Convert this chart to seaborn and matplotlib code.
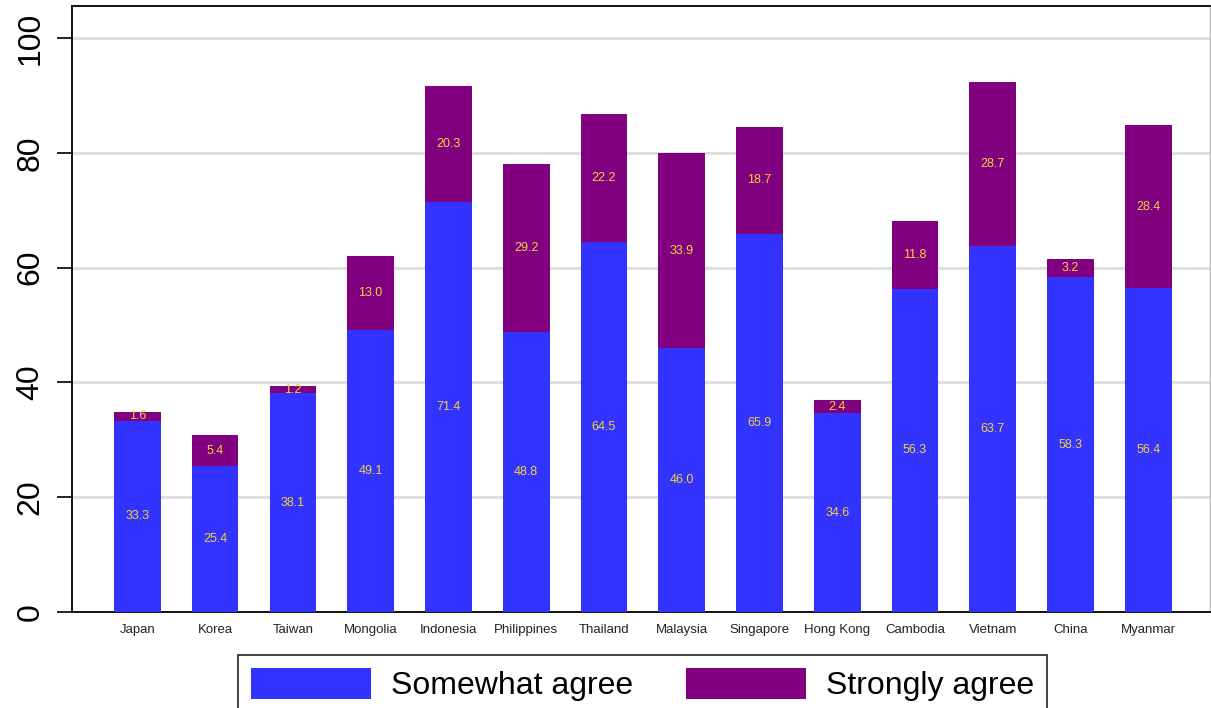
import pandas as pd
import seaborn as sns
import matplotlib.pyplot as plt
from matplotlib.patches import Patch

# Chart data (percent agreeing)
countries = ["Japan", "Korea", "Taiwan", "Mongolia", "Indonesia", "Philippines",
             "Thailand", "Malaysia", "Singapore", "Hong Kong", "Cambodia",
             "Vietnam", "China", "Myanmar"]
somewhat = [33.3, 25.4, 38.1, 49.1, 71.4, 48.8, 64.5, 46.0, 65.9, 34.6, 56.3, 63.7, 58.3, 56.4]
strongly = [1.6, 5.4, 1.2, 13.0, 20.3, 29.2, 22.2, 33.9, 18.7, 2.4, 11.8, 28.7, 3.2, 28.4]
series_names = ["Somewhat agree", "Strongly agree"]
yticks = [0, 20, 40, 60, 80, 100]

BLUE = "#3333FF"
PURPLE = "#800080"
LABEL_COLOR = "#F2D43A"

df = pd.DataFrame({"country": countries, "somewhat": somewhat, "strongly": strongly})
df["total"] = df["somewhat"] + df["strongly"]

sns.set_style("white")
plt.rcParams["font.family"] = ["Liberation Sans", "DejaVu Sans"]
plt.rcParams["text.color"] = "black"

fig = plt.figure(figsize=(12.11, 7.08), dpi=100)
ax = fig.add_axes([0.0595, 0.1356, 0.9395, 0.8559])

# stacked bars: total in purple, the lower segment drawn over it in blue
sns.barplot(data=df, x="country", y="total", color=PURPLE, saturation=1,
            width=0.6, edgecolor="none", ax=ax, zorder=2)
sns.barplot(data=df, x="country", y="somewhat", color=BLUE, saturation=1,
            width=0.6, edgecolor="none", ax=ax, zorder=3)

# value labels in the middle of each segment
for i, row in df.iterrows():
    ax.text(i, row["somewhat"] / 2, f"{row['somewhat']:.1f}", ha="center", va="center",
            color=LABEL_COLOR, fontsize=9, zorder=4)
    ax.text(i, row["somewhat"] + row["strongly"] / 2, f"{row['strongly']:.1f}",
            ha="center", va="center", color=LABEL_COLOR, fontsize=9, zorder=4)

ax.set_xlim(-0.84, 13.79)
ax.set_ylim(0, 105.6)
ax.set_yticks(yticks)
ax.set_yticklabels([str(t) for t in yticks], rotation=90, va="center", fontsize=23)
ax.tick_params(axis="y", length=11, width=1.2, color="black", pad=8, left=True,
               labelcolor="black")
ax.tick_params(axis="x", length=0, pad=9, labelsize=9.5, labelcolor="#222222")
for lab in ax.get_xticklabels():
    lab.set_family(["Liberation Sans Narrow", "Liberation Sans", "DejaVu Sans"])
ax.set_xlabel("")
ax.set_ylabel("")

ax.yaxis.grid(True, color="#DDDDDD", linewidth=2, zorder=0)
ax.set_axisbelow(True)
for side in ["left", "bottom", "top"]:
    ax.spines[side].set_color("black")
    ax.spines[side].set_linewidth(1.3)
ax.spines["right"].set_color("#BBBBBB")
ax.spines["right"].set_linewidth(1)

handles = [Patch(facecolor=BLUE, edgecolor="none"), Patch(facecolor=PURPLE, edgecolor="none")]
leg = fig.legend(handles, series_names, loc="upper center", bbox_to_anchor=(0.5306, 0.075),
                 ncol=2, fontsize=23, frameon=True, fancybox=False, edgecolor="black",
                 handlelength=3.75, handleheight=1.15, columnspacing=1.65, handletextpad=0.63,
                 borderpad=0.4, borderaxespad=0)
leg.get_frame().set_linewidth(1.3)

fig.savefig("out.png", dpi=100)
